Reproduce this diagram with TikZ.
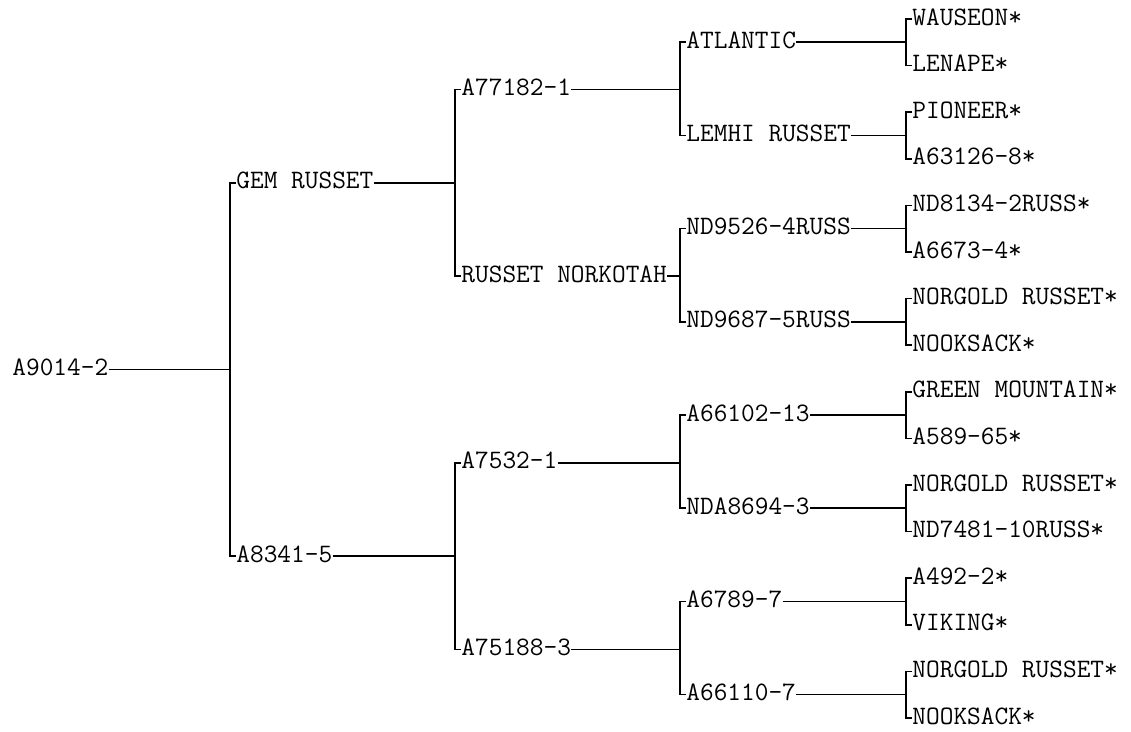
\documentclass[tikz,border=0pt]{standalone}
\usepackage{fontspec}
\usepackage{tikz}
\tikzstyle{cultivar} = [anchor=west, inner sep=0pt, text height=0.61em, text depth=0pt, font=\ttfamily\fontsize{13.3}{16}\selectfont]
\tikzstyle{link} = [line width=0.8pt, black]

\begin{document}
\begin{tikzpicture}[x=0.5pt, y=-0.5pt]
        \useasboundingbox (0,0) rectangle (1131,732);
        % root and parents
        \node (a9014) [cultivar] at (12,369.5) {A9014-2};
        \node (gem) [cultivar] at (236,182.9) {GEM RUSSET};
        \node (a8341) [cultivar] at (236,556.1) {A8341-5};
        \node (a77182) [cultivar] at (461,89.6) {A77182-1};
        \node (norkotah) [cultivar] at (461,276.2) {RUSSET NORKOTAH};
        \node (a7532) [cultivar] at (461,462.8) {A7532-1};
        \node (a75188) [cultivar] at (461,649.4) {A75188-3};
        % grandparents
        \node (atlantic) [cultivar] at (686,42.3) {ATLANTIC};
        \node (lemhi) [cultivar] at (686,135.5) {LEMHI RUSSET};
        \node (nd9526) [cultivar] at (686,228.7) {ND9526-4RUSS};
        \node (nd9687) [cultivar] at (686,321.9) {ND9687-5RUSS};
        \node (a66102) [cultivar] at (686,415.1) {A66102-13};
        \node (nda8694) [cultivar] at (686,508.3) {NDA8694-3};
        \node (a6789) [cultivar] at (686,601.5) {A6789-7};
        \node (a66110) [cultivar] at (686,694.7) {A66110-7};
        % great-grandparents
        \node (wauseon) [cultivar] at (912,19) {WAUSEON*};
        \node (lenape) [cultivar] at (912,65.6) {LENAPE*};
        \node (pioneer) [cultivar] at (912,112.2) {PIONEER*};
        \node (a63126) [cultivar] at (912,158.8) {A63126-8*};
        \node (nd8134) [cultivar] at (912,205.4) {ND8134-2RUSS*};
        \node (a6673) [cultivar] at (912,252) {A6673-4*};
        \node (norgoldA) [cultivar] at (912,298.6) {NORGOLD RUSSET*};
        \node (nooksackA) [cultivar] at (912,345.2) {NOOKSACK*};
        \node (greenmtn) [cultivar] at (912,391.8) {GREEN MOUNTAIN*};
        \node (a589) [cultivar] at (912,438.4) {A589-65*};
        \node (norgoldB) [cultivar] at (912,485) {NORGOLD RUSSET*};
        \node (nd7481) [cultivar] at (912,531.6) {ND7481-10RUSS*};
        \node (a492) [cultivar] at (912,578.2) {A492-2*};
        \node (viking) [cultivar] at (912,624.8) {VIKING*};
        \node (norgoldC) [cultivar] at (912,671.4) {NORGOLD RUSSET*};
        \node (nooksackB) [cultivar] at (912,718) {NOOKSACK*};

        \draw [link] (a9014.east) -- ([xshift=-3pt]gem.west |- a9014.east)
            (gem.west) -- ++(-3pt,0) |- (a8341.west);
        \draw [link] (gem.east) -- ([xshift=-3pt]a77182.west |- gem.east)
            (a77182.west) -- ++(-3pt,0) |- (norkotah.west);
        \draw [link] (a8341.east) -- ([xshift=-3pt]a7532.west |- a8341.east)
            (a7532.west) -- ++(-3pt,0) |- (a75188.west);
        \draw [link] (a77182.east) -- ([xshift=-3pt]atlantic.west |- a77182.east)
            (atlantic.west) -- ++(-3pt,0) |- (lemhi.west);
        \draw [link] (norkotah.east) -- ([xshift=-3pt]nd9526.west |- norkotah.east)
            (nd9526.west) -- ++(-3pt,0) |- (nd9687.west);
        \draw [link] (a7532.east) -- ([xshift=-3pt]a66102.west |- a7532.east)
            (a66102.west) -- ++(-3pt,0) |- (nda8694.west);
        \draw [link] (a75188.east) -- ([xshift=-3pt]a6789.west |- a75188.east)
            (a6789.west) -- ++(-3pt,0) |- (a66110.west);
        \draw [link] (atlantic.east) -- ([xshift=-3pt]wauseon.west |- atlantic.east)
            (wauseon.west) -- ++(-3pt,0) |- (lenape.west);
        \draw [link] (lemhi.east) -- ([xshift=-3pt]pioneer.west |- lemhi.east)
            (pioneer.west) -- ++(-3pt,0) |- (a63126.west);
        \draw [link] (nd9526.east) -- ([xshift=-3pt]nd8134.west |- nd9526.east)
            (nd8134.west) -- ++(-3pt,0) |- (a6673.west);
        \draw [link] (nd9687.east) -- ([xshift=-3pt]norgoldA.west |- nd9687.east)
            (norgoldA.west) -- ++(-3pt,0) |- (nooksackA.west);
        \draw [link] (a66102.east) -- ([xshift=-3pt]greenmtn.west |- a66102.east)
            (greenmtn.west) -- ++(-3pt,0) |- (a589.west);
        \draw [link] (nda8694.east) -- ([xshift=-3pt]norgoldB.west |- nda8694.east)
            (norgoldB.west) -- ++(-3pt,0) |- (nd7481.west);
        \draw [link] (a6789.east) -- ([xshift=-3pt]a492.west |- a6789.east)
            (a492.west) -- ++(-3pt,0) |- (viking.west);
        \draw [link] (a66110.east) -- ([xshift=-3pt]norgoldC.west |- a66110.east)
            (norgoldC.west) -- ++(-3pt,0) |- (nooksackB.west);
\end{tikzpicture}
\end{document}
